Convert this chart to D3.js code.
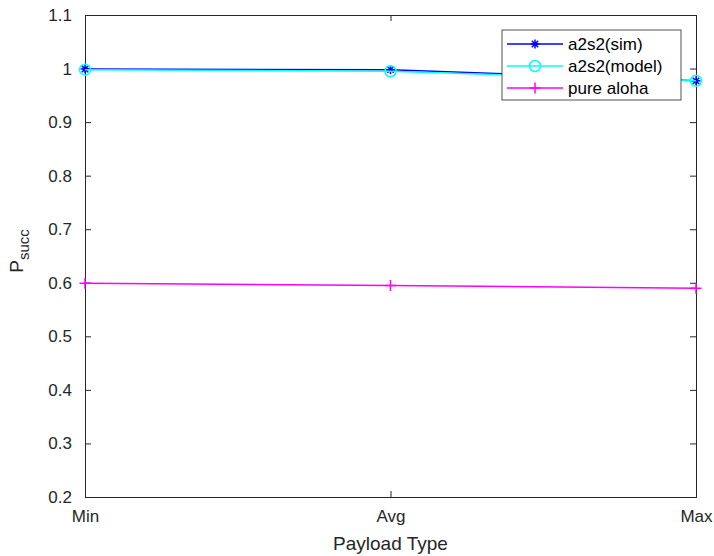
<!DOCTYPE html>
<html>
<head>
<meta charset="utf-8">
<script src="https://cdn.jsdelivr.net/npm/d3@7"></script>
<style>
  body { margin: 0; background: #fff; }
  svg { display: block; font-family: "Liberation Sans", Arial, sans-serif; }
</style>
</head>
<body>
<div id="chart"></div>
<script>
const categories = ['Min', 'Avg', 'Max'];
const simValues = [0.999, 0.998, 0.977];
const modelValues = [0.998, 0.995, 0.977];
const alohaValues = [0.599, 0.595, 0.590];
const yTicks = [0.2, 0.3, 0.4, 0.5, 0.6, 0.7, 0.8, 0.9, 1, 1.1];

const series = [
  { name: 'a2s2(sim)', values: simValues, color: '#0000ff', marker: 'star' },
  { name: 'a2s2(model)', values: modelValues, color: '#00ffff', marker: 'circle' },
  { name: 'pure aloha', values: alohaValues, color: '#ff00ff', marker: 'plus' }
];

const width = 714, height = 556;
const margin = { top: 15, right: 18, bottom: 59, left: 85 };
const innerW = width - margin.left - margin.right;
const innerH = height - margin.top - margin.bottom;
const axisColor = '#262626';
const tickFont = 17;

const svg = d3.select('#chart').append('svg')
  .attr('width', width)
  .attr('height', height);

const g = svg.append('g').attr('transform', `translate(${margin.left},${margin.top})`);

const x = d3.scalePoint().domain(categories).range([0, innerW]);
const y = d3.scaleLinear().domain([0.2, 1.1]).range([innerH, 0]);

const fmt = d => (d === 1 ? '1' : d3.format('.1f')(d));

// axes with inward ticks, box on all four sides
const axLeft = g.append('g')
  .call(d3.axisLeft(y).tickValues(yTicks).tickSize(-6).tickPadding(13).tickFormat(fmt));
const axRight = g.append('g').attr('transform', `translate(${innerW},0)`)
  .call(d3.axisRight(y).tickValues(yTicks).tickSize(-6).tickFormat(''));
const axBottom = g.append('g').attr('transform', `translate(0,${innerH})`)
  .call(d3.axisBottom(x).tickSize(-6).tickPadding(13));
const axTop = g.append('g')
  .call(d3.axisTop(x).tickSize(-6).tickFormat(''));

[axLeft, axRight, axBottom, axTop].forEach(a => {
  a.select('.domain').attr('stroke', axisColor).attr('stroke-width', 1);
  a.selectAll('.tick line').attr('stroke', axisColor);
  a.selectAll('.tick text').attr('fill', axisColor).attr('font-size', tickFont)
    .attr('font-family', '"Liberation Sans", Arial, sans-serif');
});

function drawMarker(sel, type, color) {
  if (type === 'circle') {
    sel.append('circle').attr('r', 5.5).attr('fill', 'none')
      .attr('stroke', color).attr('stroke-width', 1.5);
  } else if (type === 'plus') {
    sel.append('path').attr('d', 'M-5.5,0H5.5M0,-5.5V5.5')
      .attr('stroke', color).attr('stroke-width', 1.5);
  } else {
    sel.append('path').attr('d', 'M-4.5,0H4.5M0,-4.5V4.5M-3.2,-3.2L3.2,3.2M-3.2,3.2L3.2,-3.2')
      .attr('stroke', color).attr('stroke-width', 1.5);
  }
}

const line = d3.line().x((d, i) => x(categories[i])).y(d => y(d));

series.forEach(s => {
  g.append('path')
    .datum(s.values)
    .attr('fill', 'none')
    .attr('stroke', s.color)
    .attr('stroke-width', 1.5)
    .attr('d', line);
  s.values.forEach((v, i) => {
    const m = g.append('g').attr('transform', `translate(${x(categories[i])},${y(v)})`);
    drawMarker(m, s.marker, s.color);
  });
});

// legend
const lg = svg.append('g').attr('transform', 'translate(502,30)');
lg.append('rect').attr('width', 179).attr('height', 70)
  .attr('fill', '#fff').attr('stroke', axisColor).attr('stroke-width', 0.8);
series.forEach((s, i) => {
  const row = lg.append('g').attr('transform', `translate(0,${14 + i * 22})`);
  row.append('line').attr('x1', 5).attr('x2', 61).attr('stroke', s.color).attr('stroke-width', 1.5);
  drawMarker(row.append('g').attr('transform', 'translate(33,0)'), s.marker, s.color);
  row.append('text').attr('x', 66).attr('dy', '0.35em')
    .attr('font-size', 17).attr('fill', '#000').text(s.name);
});

// axis labels
svg.append('text')
  .attr('x', margin.left + innerW / 2).attr('y', 550)
  .attr('text-anchor', 'middle').attr('font-size', 19).attr('fill', axisColor)
  .text('Payload Type');

const yl = svg.append('text')
  .attr('transform', `translate(23,${margin.top + innerH / 2 - 5}) rotate(-90)`)
  .attr('text-anchor', 'middle').attr('font-size', 19).attr('fill', axisColor);
yl.append('tspan').text('P');
yl.append('tspan').attr('dy', 6).attr('font-size', 15).text('succ');
</script>
</body>
</html>
